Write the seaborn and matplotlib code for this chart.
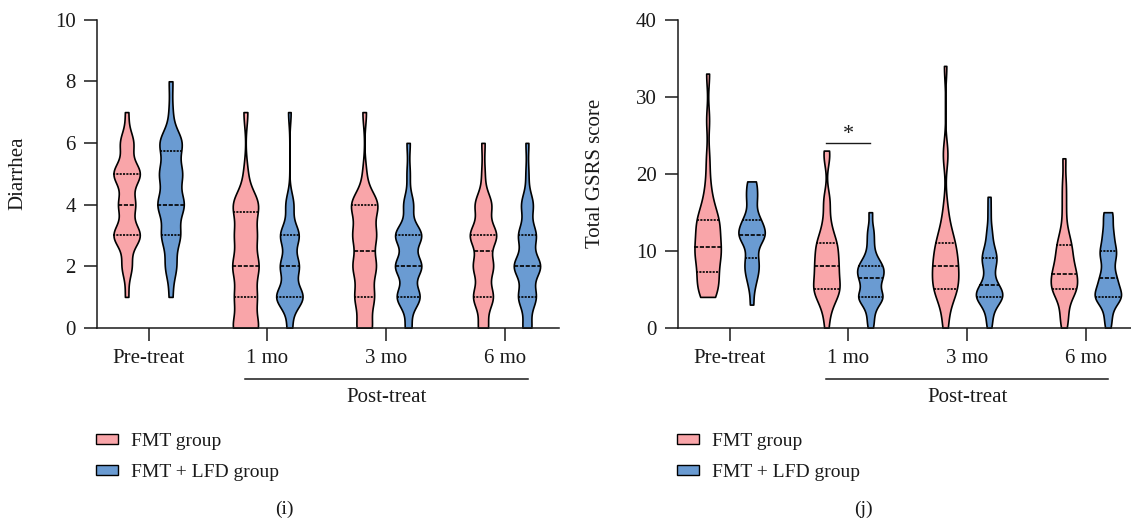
import numpy as np
import pandas as pd
import matplotlib
matplotlib.use("Agg")
import matplotlib.pyplot as plt
from matplotlib.patches import Patch
import seaborn as sns

# ---------------- data (values estimated from the figure) ----------------
categories = ["Pre-treat", "1 mo", "3 mo", "6 mo"]
groups = ["FMT group", "FMT + LFD group"]

# Panel (i): Diarrhea
diarrhea_fmt_pre = [1, 2, 2, 2, 3, 3, 3, 3, 3, 3, 3, 3, 4, 4, 4, 4, 4, 5, 5, 5, 5, 5, 5, 5, 5, 6, 6, 6, 6, 7]
diarrhea_fmt_1mo = [0, 0, 0, 0, 0, 0, 1, 1, 1, 1, 1, 2, 2, 2, 2, 2, 2, 3, 3, 3, 3, 3, 4, 4, 4, 4, 4, 4, 5, 7]
diarrhea_fmt_3mo = [0, 0, 0, 0, 1, 1, 1, 1, 1, 2, 2, 2, 2, 2, 2, 3, 3, 3, 3, 3, 3, 4, 4, 4, 4, 4, 4, 4, 5, 7]
diarrhea_fmt_6mo = [0, 0, 0, 1, 1, 1, 1, 1, 1, 2, 2, 2, 2, 2, 2, 3, 3, 3, 3, 3, 3, 3, 3, 4, 4, 4, 4, 4, 5, 6]
diarrhea_lfd_pre = [1, 2, 2, 2, 3, 3, 3, 3, 3, 4, 4, 4, 4, 4, 4, 4, 5, 5, 5, 5, 5, 5, 6, 6, 6, 6, 6, 6, 7, 8]
diarrhea_lfd_1mo = [0, 0, 1, 1, 1, 1, 1, 1, 1, 1, 1, 1, 2, 2, 2, 2, 2, 2, 2, 3, 3, 3, 3, 3, 3, 3, 4, 4, 4, 7]
diarrhea_lfd_3mo = [0, 0, 1, 1, 1, 1, 1, 1, 1, 2, 2, 2, 2, 2, 2, 2, 2, 3, 3, 3, 3, 3, 3, 3, 3, 4, 4, 4, 5, 6]
diarrhea_lfd_6mo = [0, 0, 0, 1, 1, 1, 1, 1, 1, 2, 2, 2, 2, 2, 2, 2, 2, 2, 3, 3, 3, 3, 3, 3, 4, 4, 4, 4, 5, 6]

# Panel (j): Total GSRS score
gsrs_fmt_pre = [4, 4, 5, 5, 6, 6, 7, 7, 8, 9, 9, 10, 10, 10, 10, 11, 12, 12, 13, 13, 14, 14, 14, 15, 16, 17, 19, 22, 27, 33]
gsrs_fmt_1mo = [0, 2, 3, 4, 4, 5, 5, 5, 5, 6, 6, 7, 7, 8, 8, 8, 9, 9, 10, 10, 11, 11, 11, 12, 13, 14, 16, 17, 22, 23]
gsrs_fmt_3mo = [0, 1, 3, 4, 5, 5, 5, 5, 5, 6, 7, 7, 7, 8, 8, 8, 9, 9, 10, 10, 11, 11, 11, 12, 13, 14, 16, 22, 23, 34]
gsrs_fmt_6mo = [0, 1, 2, 3, 4, 5, 5, 5, 5, 5, 6, 6, 7, 7, 7, 7, 8, 8, 9, 9, 10, 10, 11, 11, 12, 13, 15, 17, 19, 22]
gsrs_lfd_pre = [3, 5, 6, 7, 7, 8, 8, 9, 9, 10, 11, 11, 12, 12, 12, 12, 12, 13, 13, 13, 14, 14, 14, 15, 16, 17, 17, 18, 19, 19]
gsrs_lfd_1mo = [0, 1, 2, 3, 3, 4, 4, 4, 4, 4, 5, 5, 6, 6, 6, 7, 7, 7, 7, 8, 8, 8, 8, 9, 9, 10, 11, 12, 13, 15]
gsrs_lfd_3mo = [0, 1, 2, 3, 3, 4, 4, 4, 4, 4, 4, 5, 5, 5, 5, 6, 6, 7, 8, 8, 9, 9, 9, 10, 10, 11, 12, 13, 15, 17]
gsrs_lfd_6mo = [0, 1, 2, 3, 4, 4, 4, 4, 4, 4, 5, 5, 6, 6, 6, 7, 7, 8, 9, 9, 10, 10, 10, 11, 12, 12, 13, 14, 15, 15]

diarrhea_ticks = [0, 2, 4, 6, 8, 10]
gsrs_ticks = [0, 10, 20, 30, 40]
sig_bar_level = 24  # "*" between groups at 1 mo (GSRS)

# ---------------- styling ----------------
PINK = "#F9A5A9"
BLUE = "#6A9BD2"
INK = "#1a1a1a"
FONT = ["Liberation Serif", "DejaVu Serif"]
FS = 15
FS_LEG = 14

plt.rcParams["font.family"] = FONT
plt.rcParams["axes.linewidth"] = 1.1


def long_frame(fmt_lists, lfd_lists):
    rows = []
    for cat, vals in zip(categories, fmt_lists):
        rows += [(cat, groups[0], v) for v in vals]
    for cat, vals in zip(categories, lfd_lists):
        rows += [(cat, groups[1], v) for v in vals]
    return pd.DataFrame(rows, columns=["time", "group", "score"])


fig = plt.figure(figsize=(11.31, 5.19), dpi=100)
W, H = 1131.0, 519.0


def px_axes(x0, x1, ytop, ybot):
    return fig.add_axes([x0 / W, 1 - ybot / H, (x1 - x0) / W, (ybot - ytop) / H])


ax1 = px_axes(97.3, 559.0, 19.7, 327.7)
ax2 = px_axes(678.3, 1131.0, 19.7, 327.7)

panels = [
    (ax1, long_frame([diarrhea_fmt_pre, diarrhea_fmt_1mo, diarrhea_fmt_3mo, diarrhea_fmt_6mo],
                     [diarrhea_lfd_pre, diarrhea_lfd_1mo, diarrhea_lfd_3mo, diarrhea_lfd_6mo]),
     diarrhea_ticks, "Diarrhea", 3.455, -0.152, "(i)", 284),
    (ax2, long_frame([gsrs_fmt_pre, gsrs_fmt_1mo, gsrs_fmt_3mo, gsrs_fmt_6mo],
                     [gsrs_lfd_pre, gsrs_lfd_1mo, gsrs_lfd_3mo, gsrs_lfd_6mo]),
     gsrs_ticks, "Total GSRS score", 3.38, -0.163, "(j)", 863),
]

for ax, df, yt, ylab, xr, ylabx, plabel, plx in panels:
    sns.violinplot(data=df, x="time", y="score", hue="group", order=categories,
                   hue_order=groups, palette=[PINK, BLUE], saturation=1,
                   inner="quart", cut=0, density_norm="width", bw_adjust=0.5,
                   width=0.74, gap=0.4, linewidth=1.2, linecolor="black",
                   legend=False, ax=ax)
    ax.set_xlim(-0.432, xr)
    ax.set_ylim(yt[0], yt[-1])
    ax.set_yticks(yt)
    ax.set_yticklabels([str(t) for t in yt])
    ax.set_xticks(range(len(categories)))
    ax.set_xticklabels(categories)
    ax.set_xlabel("")
    ax.set_ylabel(ylab, fontsize=FS, color=INK)
    ax.yaxis.set_label_coords(ylabx, 0.5)
    for s in ["top", "right"]:
        ax.spines[s].set_visible(False)
    for s in ["left", "bottom"]:
        ax.spines[s].set_color(INK)
        ax.spines[s].set_linewidth(1.1)
    ax.tick_params(axis="both", direction="out", length=9.4, width=1.1, color=INK,
                   labelsize=FS, labelcolor=INK)
    ax.tick_params(axis="y", pad=6)
    ax.tick_params(axis="x", pad=6)
    ax.set_facecolor("none")

    # Post-treat bracket
    tr = ax.get_xaxis_transform()
    ax.plot([0.81, 3.19], [-0.165, -0.165], transform=tr, color=INK, lw=1.1,
            clip_on=False)
    ax.text(2, -0.225, "Post-treat", transform=tr, ha="center", va="center",
            fontsize=FS, color=INK)

    # legend
    handles = [Patch(facecolor=PINK, edgecolor="black", linewidth=1.0, label=groups[0]),
               Patch(facecolor=BLUE, edgecolor="black", linewidth=1.0, label=groups[1])]
    lx = (ax.get_position().x0 * W - 1) / W
    fig.legend(handles=handles, loc="upper left", bbox_to_anchor=(lx, 1 - 433 / H),
               frameon=False, fontsize=FS_LEG, handlelength=1.1, handleheight=0.4,
               handletextpad=0.7, labelspacing=0.72, borderpad=0, borderaxespad=0,
               labelcolor=INK)
    fig.text(plx / W, 1 - 509 / H, plabel, ha="center", va="center", fontsize=FS - 1,
             color=INK)

# significance bar in panel (j)
off = 0.74 / 4
ax2.plot([1 - off, 1 + off], [sig_bar_level, sig_bar_level], color=INK, lw=1.0)
ax2.text(1, sig_bar_level - 0.2, "*", ha="center", va="bottom", fontsize=FS + 1, color=INK)

fig.savefig("out.png", dpi=100)
